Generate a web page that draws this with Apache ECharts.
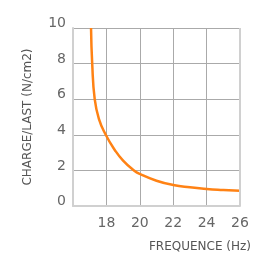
<!DOCTYPE html>
<html>
<head>
<meta charset="utf-8">
<script src="https://cdn.jsdelivr.net/npm/echarts@6/dist/echarts.min.js"></script>
<style>
  html, body { margin: 0; padding: 0; background: #fff; }
  #chart { width: 254px; height: 253px; }
</style>
</head>
<body>
<div id="chart"></div>
<script>
(function() {
  // frequence (Hz) et charge (N/cm2)
  var freq = [17.08, 17.15, 17.3, 17.55, 17.96, 18.5, 19, 19.65, 20, 21, 22, 23, 24, 25, 26];
  var charge = [10, 8, 6, 4.9, 4, 3.15, 2.55, 2, 1.8, 1.42, 1.18, 1.05, 0.96, 0.9, 0.85];

  var xName = "FREQUENCE (Hz)";
  var yName = "CHARGE/LAST (N/cm2)";

  var myChart = echarts.init(document.getElementById("chart"));

  var data = freq.map(function(f, i) {
    return [f, charge[i]];
  });

  var option = {
    animation: false,
    grid: {
      left: 73,
      right: 12,
      top: 28,
      bottom: 45
    },
    xAxis: {
      type: "value",
      min: 16,
      max: 26,
      interval: 2,
      name: xName,
      nameLocation: "end",
      nameGap: 11,
      nameTextStyle: {
        color: "#555",
        fontSize: 12,
        fontFamily: "DejaVu Sans",
        align: "right",
        verticalAlign: "top",
        padding: [35, 0, 0, 0]
      },
      axisLine: { show: true, lineStyle: { color: "#d0d0d0", width: 2 } },
      axisTick: { show: false },
      axisLabel: {
        color: "#666",
        fontSize: 14,
        fontFamily: "DejaVu Sans",
        margin: 10,
        showMinLabel: false
      },
      splitLine: { show: true, lineStyle: { color: "#aaa", width: 1 } }
    },
    yAxis: {
      type: "value",
      min: 0,
      max: 10,
      interval: 2,
      name: yName,
      nameLocation: "middle",
      nameGap: 39,
      nameTextStyle: {
        color: "#555",
        fontSize: 12,
        fontFamily: "DejaVu Sans"
      },
      axisLine: { show: true, lineStyle: { color: "#d0d0d0", width: 2 } },
      axisTick: { show: false },
      axisLabel: {
        color: "#666",
        fontSize: 14,
        fontFamily: "DejaVu Sans",
        margin: 7,
        verticalAlign: "bottom",
        lineHeight: 9
      },
      splitLine: { show: true, lineStyle: { color: "#aaa", width: 1 } }
    },
    series: [
      {
        type: "line",
        data: data,
        smooth: 0.5,
        symbol: "none",
        lineStyle: { color: "#ff8214", width: 2.5 }
      },
      {
        // bord droit du cadre
        type: "line",
        data: [],
        markLine: {
          silent: true,
          symbol: "none",
          label: { show: false },
          lineStyle: { color: "#d0d0d0", width: 2, type: "solid" },
          data: [{ xAxis: 26 }]
        }
      }
    ]
  };
  myChart.setOption(option);
})();
</script>
</body>
</html>
